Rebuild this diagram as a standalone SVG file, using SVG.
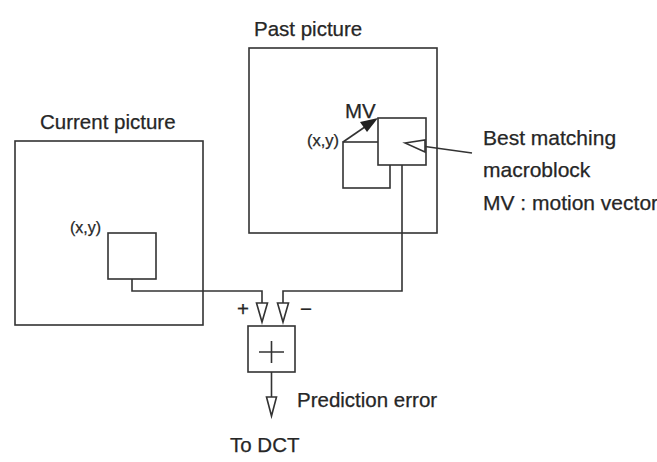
<svg xmlns="http://www.w3.org/2000/svg" width="657" height="462" viewBox="0 0 657 462">
<style>
.ln{fill:none;stroke:#333;stroke-width:1.6}
.bx{fill:#fff;stroke:#333;stroke-width:1.6}
.t{font-family:"Liberation Sans",Arial,sans-serif;fill:#262626;stroke:#262626;stroke-width:0.25}
.big{font-size:20.5px}
.rt{font-size:21px}
.sm{font-size:16px}
.tri{fill:#fff;stroke:#333;stroke-width:1.6;stroke-linejoin:miter}
</style>
<rect width="657" height="462" fill="#fff"/>
<g id="current-picture">
<rect class="ln" x="15" y="141" width="188" height="184"/>
<text class="t big" x="40" y="129">Current picture</text>
</g>
<g id="current-block">
<rect class="bx" x="108" y="233" width="48" height="46"/>
<text class="t sm" x="70" y="233">(x,y)</text>
</g>
<g id="past-picture">
<rect class="ln" x="249" y="48" width="188" height="185"/>
<text class="t big" x="254" y="36">Past picture</text>
</g>
<g id="past-block">
<rect class="bx" x="343" y="142" width="47" height="46"/>
<text class="t" font-size="16.5" x="307" y="146">(x,y)</text>
</g>
<g id="best-block">
<rect class="bx" x="378" y="118" width="48" height="47"/>
</g>
<g id="mv-label">
<text class="t" font-size="20.5" x="345" y="118">MV</text>
</g>
<g id="best-label">
<text class="t rt" x="483" y="145">Best matching</text>
<text class="t rt" x="483" y="177">macroblock</text>
<text class="t rt" x="483" y="210">MV : motion vector</text>
</g>
<g id="sum">
<rect class="bx" x="248" y="326" width="47" height="46"/>
<path class="ln" d="M259 352H284M271.5 341V363"/>
<text class="t big" x="237" y="316">+</text>
<text class="t big" x="300" y="316">−</text>
</g>
<g id="outputs">
<text class="t big" x="297" y="407">Prediction error</text>
<text class="t big" x="230" y="452">To DCT</text>
</g>
<g id="connectors">
<path class="ln" d="M132 279V291H262V303"/>
<polygon class="tri" points="256.5,303 267.5,303 262,322"/>
<path class="ln" d="M402 165V291H283V303"/>
<polygon class="tri" points="277.5,303 288.5,303 283,322"/>
<path class="ln" d="M271.5 372V397"/>
<polygon class="tri" points="266.5,397 276.5,397 271.5,416"/>
<path class="ln" d="M343 142L367 125.5"/>
<polygon points="378,118 360,122 367,132" fill="#222"/>
<path class="ln" d="M472 153L425 146.5"/>
<polygon class="tri" points="405,143 425,140 425,152"/>
</g>
</svg>
